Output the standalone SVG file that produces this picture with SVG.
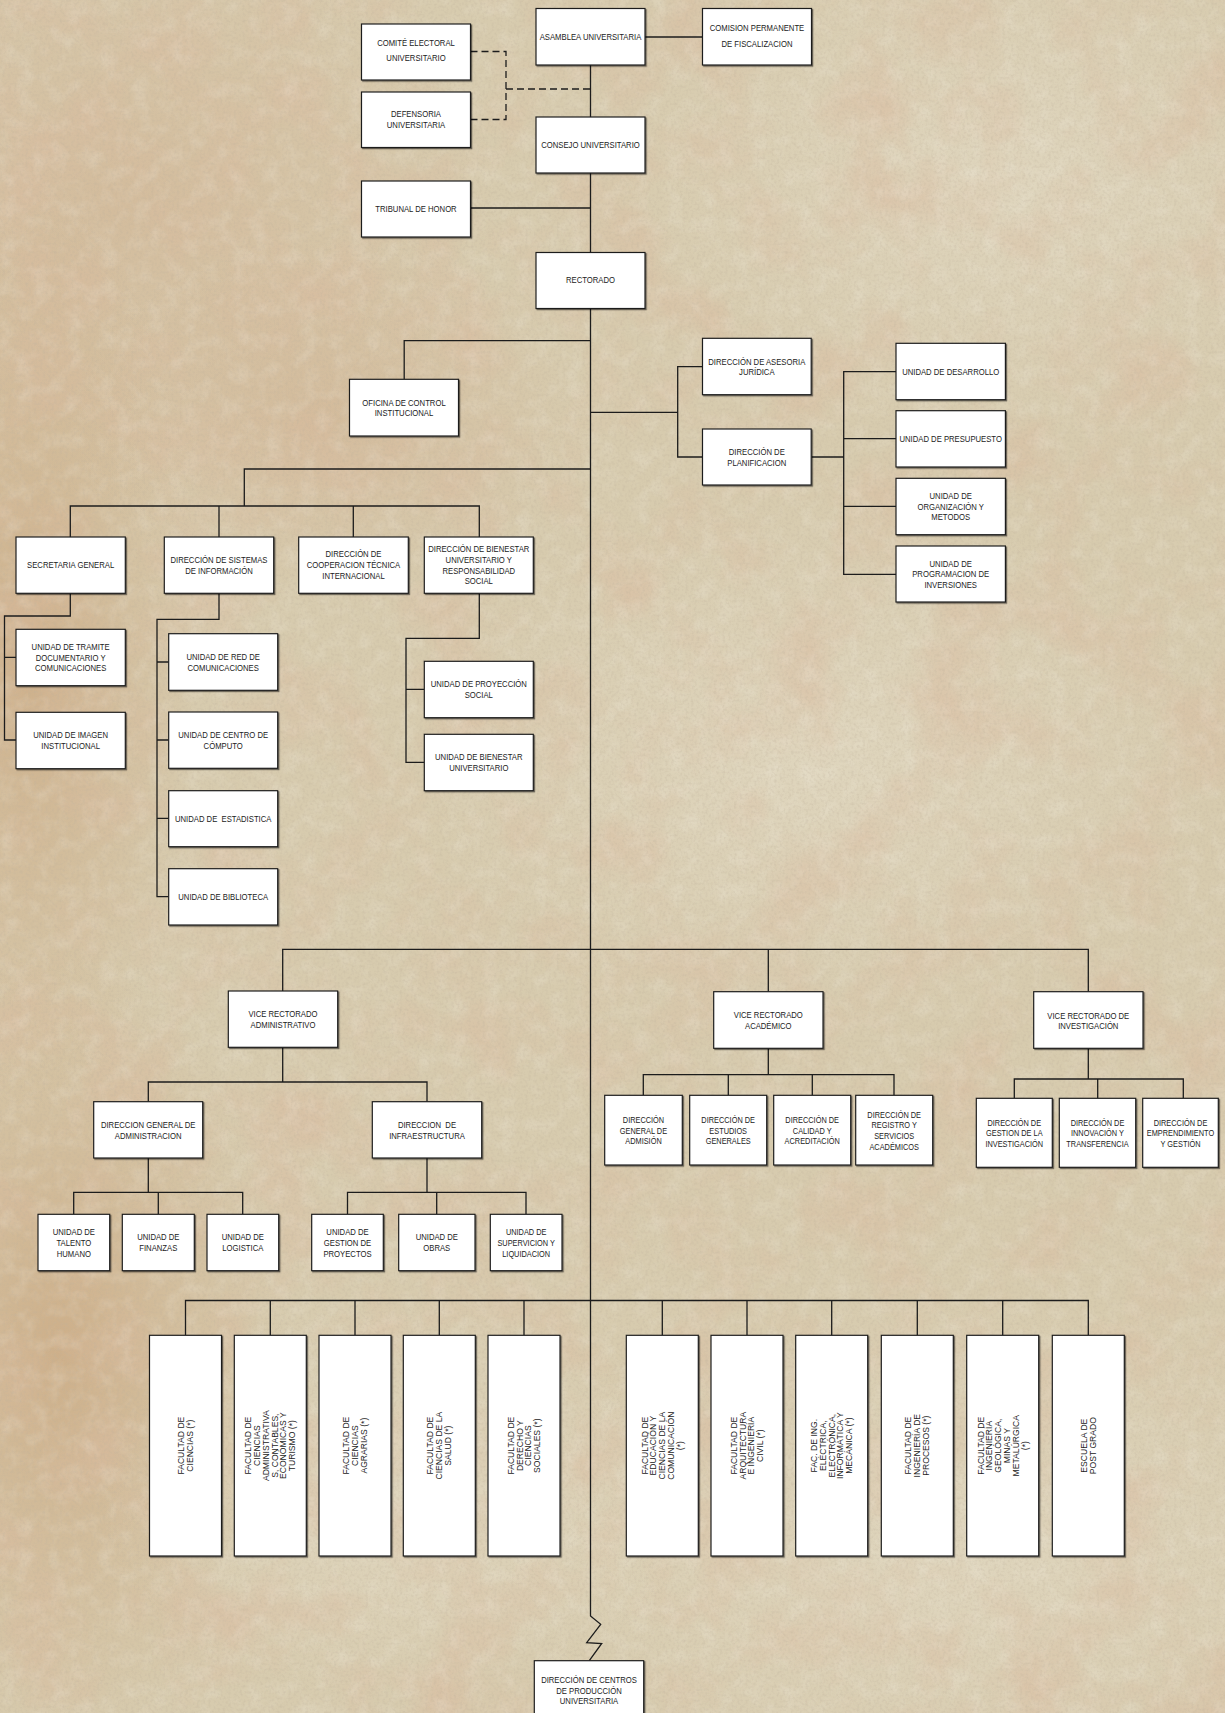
<svg xmlns="http://www.w3.org/2000/svg" width="1225" height="1713" viewBox="0 0 1225 1713">
<style>
.node rect{fill:#fff;stroke:#1e1e1e;stroke-width:1.2;filter:url(#ds)}
.t{font-family:"Liberation Sans",Arial,sans-serif;font-size:9.4px;fill:#222;text-anchor:middle}
.s{font-size:9px}
.f{font-family:"Liberation Sans",Arial,sans-serif;font-size:8.6px;fill:#222;text-anchor:middle}
.c path{fill:none;stroke:#1c1c1c;stroke-width:1.3}
.c path.d{stroke-dasharray:7 4}
</style>
<defs>
<filter id="ds" x="-10%" y="-10%" width="130%" height="130%"><feDropShadow dx="1.2" dy="1.2" stdDeviation="0.5" flood-color="#000" flood-opacity="0.5"/></filter>
<filter id="mottle" x="0" y="0" width="100%" height="100%"><feTurbulence type="fractalNoise" baseFrequency="0.012" numOctaves="5" seed="7"/><feColorMatrix type="matrix" values="0 0 0 0 0.70  0 0 0 0 0.50  0 0 0 0 0.35  2.4 0 0 0 -1.05"/></filter>
<filter id="mid" x="0" y="0" width="100%" height="100%"><feTurbulence type="fractalNoise" baseFrequency="0.06" numOctaves="3" seed="11"/><feColorMatrix type="matrix" values="0 0 0 0 0.93  0 0 0 0 0.90  0 0 0 0 0.82  0 2.2 0 0 -0.95"/></filter>
<filter id="grain" x="0" y="0" width="100%" height="100%"><feTurbulence type="fractalNoise" baseFrequency="0.35" numOctaves="2" seed="3"/><feColorMatrix type="matrix" values="0 0 0 0 0.52  0 0 0 0 0.44  0 0 0 0 0.33  2.4 0 0 0 -1.05"/></filter>
<radialGradient id="g1" cx="0.5" cy="0.5" r="0.5"><stop offset="0" stop-color="#c8a076" stop-opacity="0.65"/><stop offset="1" stop-color="#c8a076" stop-opacity="0"/></radialGradient>
<radialGradient id="g2" cx="0.5" cy="0.5" r="0.5"><stop offset="0" stop-color="#e4dcc7" stop-opacity="0.6"/><stop offset="1" stop-color="#e4dcc7" stop-opacity="0"/></radialGradient>
<radialGradient id="g3" cx="0.5" cy="0.5" r="0.5"><stop offset="0" stop-color="#cfac8a" stop-opacity="0.5"/><stop offset="1" stop-color="#cfac8a" stop-opacity="0"/></radialGradient>
</defs>
<g id="background">
<rect width="1225" height="1713" fill="#d7cbae"/>
<ellipse cx="120" cy="200" rx="380" ry="300" fill="url(#g3)"/>
<ellipse cx="30" cy="650" rx="170" ry="460" fill="url(#g1)"/>
<ellipse cx="60" cy="1350" rx="220" ry="400" fill="url(#g1)"/>
<ellipse cx="330" cy="420" rx="260" ry="180" fill="url(#g3)"/>
<ellipse cx="1000" cy="180" rx="380" ry="260" fill="url(#g2)"/>
<ellipse cx="950" cy="1550" rx="450" ry="250" fill="url(#g2)"/>
<ellipse cx="820" cy="760" rx="400" ry="260" fill="url(#g2)"/>
<ellipse cx="400" cy="1500" rx="300" ry="200" fill="url(#g2)"/>
<rect width="1225" height="1713" filter="url(#mottle)" opacity="0.55"/>
<rect width="1225" height="1713" filter="url(#mid)" opacity="0.2"/>
<rect width="1225" height="1713" filter="url(#grain)" opacity="0.3"/>
</g>
<g id="connectors" class="c">
<path d="M590.5,64.5 V117 M645,37 H702.5 M590.5,173 V252.5 M470.5,208 H590.5"/>
<path class="d" d="M470.5,51.5 H506 V119.5 H470.5 M506,89 H590.5"/>
<path d="M590.5,308.5 V1616 L600.7,1624.3 L586.7,1642.7 L601.7,1643.5 L589.3,1660.7"/>
<path d="M590.5,340.7 H404.2 V379.3"/>
<path d="M590.5,412.3 H677.7 M702.5,366.7 H677.7 V457 H702.5 M811.2,457 H843.7 M896,371.7 H843.7 V574.3 H896 M843.7,438.7 H896 M843.7,506.3 H896"/>
<path d="M590.5,469 H244.3 V506 M70.3,537 V506 H479.3 V537 M219,506 V537 M353.3,506 V537"/>
<path d="M70.3,593.3 V616 H4.5 V740 H16 M4.5,657.3 H16"/>
<path d="M219,593.3 V619.3 H157 V896.7 H168.7 M157,662 H168.7 M157,740 H168.7 M157,818.3 H168.7"/>
<path d="M479.3,593.3 V638.3 H406 V762.3 H424.3 M406,689.3 H424.3"/>
<path d="M282.7,991 V949.3 H1088.3 V991.7 M768.3,949.3 V991.7"/>
<path d="M282.7,1047.3 V1082 M148.3,1101.7 V1082 H427 V1101.7"/>
<path d="M148.3,1158 V1192.3 M73.7,1214.3 V1192.3 H242.7 V1214.3 M158.3,1192.3 V1214.3"/>
<path d="M427,1158 V1192.3 M347.5,1214.3 V1192.3 H526 V1214.3 M436.7,1192.3 V1214.3"/>
<path d="M768.3,1048.3 V1074.7 M643.3,1095.3 V1074.7 H894 V1095.3 M728.3,1074.7 V1095.3 M812.3,1074.7 V1095.3"/>
<path d="M1088.3,1048.3 V1079 M1014.3,1098.3 V1079 H1183.3 V1098.3 M1097.7,1079 V1098.3"/>
<path d="M185.5,1335.3 V1300.5 H1088.3 V1335.3 M270.3,1300.5 V1335.3 M355,1300.5 V1335.3 M439.3,1300.5 V1335.3 M524,1300.5 V1335.3 M662.3,1300.5 V1335.3 M747,1300.5 V1335.3 M831.7,1300.5 V1335.3 M917.3,1300.5 V1335.3 M1002.7,1300.5 V1335.3"/>
</g>
<g id="n-asamblea" class="node"><rect x="536" y="8.5" width="109" height="56.5"/><text class="t" transform="matrix(0.82 0 0 1 106.29 0)" x="590.5" y="40">ASAMBLEA UNIVERSITARIA</text></g>
<g id="n-comision" class="node"><rect x="702.5" y="8.5" width="109" height="56.5"/><text class="t" transform="matrix(0.82 0 0 1 136.26 0)"><tspan x="757" y="31">COMISION PERMANENTE</tspan><tspan x="757" y="47">DE FISCALIZACION</tspan></text></g>
<g id="n-comite" class="node"><rect x="361.5" y="24" width="109" height="56"/><text class="t" transform="matrix(0.82 0 0 1 74.88 0)"><tspan x="416" y="45.6">COMITÉ ELECTORAL</tspan><tspan x="416" y="60.6">UNIVERSITARIO</tspan></text></g>
<g id="n-defensoria" class="node"><rect x="361.5" y="92" width="109" height="55.5"/><text class="t" transform="matrix(0.82 0 0 1 74.88 0)"><tspan x="416" y="116.6">DEFENSORIA</tspan><tspan x="416" y="127.6">UNIVERSITARIA</tspan></text></g>
<g id="n-consejo" class="node"><rect x="536" y="117" width="109" height="56"/><text class="t" transform="matrix(0.82 0 0 1 106.29 0)" x="590.5" y="148.5">CONSEJO UNIVERSITARIO</text></g>
<g id="n-tribunal" class="node"><rect x="361.5" y="181" width="109" height="56"/><text class="t" transform="matrix(0.82 0 0 1 74.88 0)" x="416" y="211.6">TRIBUNAL DE HONOR</text></g>
<g id="n-rectorado" class="node"><rect x="536" y="252.5" width="109" height="56"/><text class="t" transform="matrix(0.82 0 0 1 106.29 0)" x="590.5" y="282.6">RECTORADO</text></g>
<g id="n-oficina" class="node"><rect x="349.5" y="379.3" width="109" height="56.7"/><text class="t" transform="matrix(0.82 0 0 1 72.72 0)"><tspan x="404" y="405.6">OFICINA DE CONTROL</tspan><tspan x="404" y="416">INSTITUCIONAL</tspan></text></g>
<g id="n-asesoria" class="node"><rect x="702.5" y="338.3" width="108.7" height="56.4"/><text class="t" transform="matrix(0.82 0 0 1 136.224 0)"><tspan x="756.8" y="365">DIRECCIÓN DE ASESORIA</tspan><tspan x="756.8" y="375">JURÍDICA</tspan></text></g>
<g id="n-planificacion" class="node"><rect x="702.5" y="429" width="108.7" height="56"/><text class="t" transform="matrix(0.82 0 0 1 136.224 0)"><tspan x="756.8" y="455">DIRECCIÓN DE</tspan><tspan x="756.8" y="466">PLANIFICACION</tspan></text></g>
<g id="n-desarrollo" class="node"><rect x="896" y="343.3" width="109.4" height="56.4"/><text class="t" transform="matrix(0.82 0 0 1 171.126 0)" x="950.7" y="375">UNIDAD DE DESARROLLO</text></g>
<g id="n-presupuesto" class="node"><rect x="896" y="410.7" width="109.4" height="56.3"/><text class="t" transform="matrix(0.82 0 0 1 171.126 0)" x="950.7" y="442">UNIDAD DE PRESUPUESTO</text></g>
<g id="n-organizacion" class="node"><rect x="896" y="478.3" width="109.4" height="56.4"/><text class="t" transform="matrix(0.82 0 0 1 171.126 0)"><tspan x="950.7" y="499">UNIDAD DE</tspan><tspan x="950.7" y="509.6">ORGANIZACIÓN Y</tspan><tspan x="950.7" y="520">METODOS</tspan></text></g>
<g id="n-programacion" class="node"><rect x="896" y="546" width="109.4" height="56"/><text class="t" transform="matrix(0.82 0 0 1 171.126 0)"><tspan x="950.7" y="566.6">UNIDAD DE</tspan><tspan x="950.7" y="577.3">PROGRAMACION DE</tspan><tspan x="950.7" y="587.6">INVERSIONES</tspan></text></g>
<g id="n-secretaria" class="node"><rect x="16" y="537" width="109.3" height="56.3"/><text class="t" transform="matrix(0.82 0 0 1 12.717 0)" x="70.65" y="567.8">SECRETARIA GENERAL</text></g>
<g id="n-sistemas" class="node"><rect x="164.3" y="537" width="109.4" height="56.3"/><text class="t" transform="matrix(0.82 0 0 1 39.42 0)"><tspan x="219" y="563">DIRECCIÓN DE SISTEMAS</tspan><tspan x="219" y="573.6">DE INFORMACIÓN</tspan></text></g>
<g id="n-cooperacion" class="node"><rect x="298.7" y="537" width="109.6" height="56.3"/><text class="t" transform="matrix(0.82 0 0 1 63.63 0)"><tspan x="353.5" y="557.3">DIRECCIÓN DE</tspan><tspan x="353.5" y="568">COOPERACION TÉCNICA</tspan><tspan x="353.5" y="579">INTERNACIONAL</tspan></text></g>
<g id="n-bienestar" class="node"><rect x="424.3" y="537" width="109" height="56.3"/><text class="t" transform="matrix(0.82 0 0 1 86.184 0)"><tspan x="478.8" y="551.6">DIRECCIÓN DE BIENESTAR</tspan><tspan x="478.8" y="562.6">UNIVERSITARIO Y</tspan><tspan x="478.8" y="573.6">RESPONSABILIDAD</tspan><tspan x="478.8" y="584">SOCIAL</tspan></text></g>
<g id="n-tramite" class="node"><rect x="16" y="629.3" width="109.3" height="56.4"/><text class="t" transform="matrix(0.82 0 0 1 12.717 0)"><tspan x="70.65" y="649.6">UNIDAD DE TRAMITE</tspan><tspan x="70.65" y="660.6">DOCUMENTARIO Y</tspan><tspan x="70.65" y="671">COMUNICACIONES</tspan></text></g>
<g id="n-imagen" class="node"><rect x="16" y="712.3" width="109.3" height="56.4"/><text class="t" transform="matrix(0.82 0 0 1 12.717 0)"><tspan x="70.65" y="737.6">UNIDAD DE IMAGEN</tspan><tspan x="70.65" y="749">INSTITUCIONAL</tspan></text></g>
<g id="n-red" class="node"><rect x="168.7" y="633.7" width="109" height="56.6"/><text class="t" transform="matrix(0.82 0 0 1 40.176 0)"><tspan x="223.2" y="660">UNIDAD DE RED DE</tspan><tspan x="223.2" y="670.6">COMUNICACIONES</tspan></text></g>
<g id="n-centro" class="node"><rect x="168.7" y="712" width="109" height="56.3"/><text class="t" transform="matrix(0.82 0 0 1 40.176 0)"><tspan x="223.2" y="738">UNIDAD DE CENTRO DE</tspan><tspan x="223.2" y="749">CÓMPUTO</tspan></text></g>
<g id="n-estadistica" class="node"><rect x="168.7" y="790.7" width="109" height="56"/><text class="t" transform="matrix(0.82 0 0 1 40.176 0)" x="223.2" y="821.6" xml:space="preserve">UNIDAD DE  ESTADISTICA</text></g>
<g id="n-biblioteca" class="node"><rect x="168.7" y="868.7" width="109" height="56.3"/><text class="t" transform="matrix(0.82 0 0 1 40.176 0)" x="223.2" y="899.6">UNIDAD DE BIBLIOTECA</text></g>
<g id="n-proyeccion" class="node"><rect x="424.3" y="661.3" width="109" height="56.4"/><text class="t" transform="matrix(0.82 0 0 1 86.184 0)"><tspan x="478.8" y="686.6">UNIDAD DE PROYECCIÓN</tspan><tspan x="478.8" y="697.6">SOCIAL</tspan></text></g>
<g id="n-bienestar-univ" class="node"><rect x="424.3" y="734.3" width="109" height="56.4"/><text class="t" transform="matrix(0.82 0 0 1 86.184 0)"><tspan x="478.8" y="760">UNIDAD DE BIENESTAR</tspan><tspan x="478.8" y="770.6">UNIVERSITARIO</tspan></text></g>
<g id="n-vr-admin" class="node"><rect x="228.3" y="991" width="109.4" height="56.3"/><text class="t" transform="matrix(0.82 0 0 1 50.94 0)"><tspan x="283" y="1017">VICE RECTORADO</tspan><tspan x="283" y="1028">ADMINISTRATIVO</tspan></text></g>
<g id="n-vr-acad" class="node"><rect x="713.7" y="991.7" width="109.3" height="56.6"/><text class="t" transform="matrix(0.82 0 0 1 138.294 0)"><tspan x="768.3" y="1018">VICE RECTORADO</tspan><tspan x="768.3" y="1029">ACADÉMICO</tspan></text></g>
<g id="n-vr-inv" class="node"><rect x="1033.7" y="991.7" width="109.3" height="56.6"/><text class="t" transform="matrix(0.82 0 0 1 195.894 0)"><tspan x="1088.3" y="1018.6">VICE RECTORADO DE</tspan><tspan x="1088.3" y="1029.3">INVESTIGACIÓN</tspan></text></g>
<g id="n-dga" class="node"><rect x="93.7" y="1101.7" width="109" height="56.3"/><text class="t" transform="matrix(0.82 0 0 1 26.676 0)"><tspan x="148.2" y="1128">DIRECCION GENERAL DE</tspan><tspan x="148.2" y="1139">ADMINISTRACION</tspan></text></g>
<g id="n-infra" class="node"><rect x="372.3" y="1101.7" width="109.4" height="56.3"/><text class="t" transform="matrix(0.82 0 0 1 76.86 0)" xml:space="preserve"><tspan x="427" y="1128">DIRECCION  DE</tspan><tspan x="427" y="1139">INFRAESTRUCTURA</tspan></text></g>
<g id="n-talento" class="node"><rect x="38" y="1214.3" width="71.7" height="56.4"/><text class="t" transform="matrix(0.82 0 0 1 13.293 0)"><tspan x="73.85" y="1235">UNIDAD DE</tspan><tspan x="73.85" y="1246">TALENTO</tspan><tspan x="73.85" y="1256.6">HUMANO</tspan></text></g>
<g id="n-finanzas" class="node"><rect x="122.3" y="1214.3" width="72" height="56.4"/><text class="t" transform="matrix(0.82 0 0 1 28.494 0)"><tspan x="158.3" y="1240.5">UNIDAD DE</tspan><tspan x="158.3" y="1251">FINANZAS</tspan></text></g>
<g id="n-logistica" class="node"><rect x="207" y="1214.3" width="71.7" height="56.4"/><text class="t" transform="matrix(0.82 0 0 1 43.713 0)"><tspan x="242.85" y="1240.5">UNIDAD DE</tspan><tspan x="242.85" y="1251">LOGISTICA</tspan></text></g>
<g id="n-gestion-proy" class="node"><rect x="311.7" y="1214.3" width="71.6" height="56.4"/><text class="t" transform="matrix(0.82 0 0 1 62.55 0)"><tspan x="347.5" y="1235">UNIDAD DE</tspan><tspan x="347.5" y="1246">GESTION DE</tspan><tspan x="347.5" y="1256.6">PROYECTOS</tspan></text></g>
<g id="n-obras" class="node"><rect x="398.7" y="1214.3" width="76.3" height="56.4"/><text class="t" transform="matrix(0.82 0 0 1 78.624 0)"><tspan x="436.8" y="1240.5">UNIDAD DE</tspan><tspan x="436.8" y="1251">OBRAS</tspan></text></g>
<g id="n-supervicion" class="node"><rect x="490.3" y="1214.3" width="71.7" height="56.4"/><text class="t s" transform="matrix(0.82 0 0 1 94.716 0)"><tspan x="526.2" y="1235">UNIDAD DE</tspan><tspan x="526.2" y="1246">SUPERVICION Y</tspan><tspan x="526.2" y="1256.6">LIQUIDACION</tspan></text></g>
<g id="n-admision" class="node"><rect x="604.7" y="1095.3" width="77.6" height="69.7"/><text class="t s" transform="matrix(0.82 0 0 1 115.83 0)"><tspan x="643.5" y="1123">DIRECCIÓN</tspan><tspan x="643.5" y="1133.6">GENERAL DE</tspan><tspan x="643.5" y="1144.3">ADMISIÓN</tspan></text></g>
<g id="n-estudios" class="node"><rect x="689.7" y="1095.3" width="77" height="69.7"/><text class="t s" transform="matrix(0.82 0 0 1 131.076 0)"><tspan x="728.2" y="1123">DIRECCIÓN DE</tspan><tspan x="728.2" y="1133.6">ESTUDIOS</tspan><tspan x="728.2" y="1144.3">GENERALES</tspan></text></g>
<g id="n-calidad" class="node"><rect x="773.7" y="1095.3" width="77" height="69.7"/><text class="t s" transform="matrix(0.82 0 0 1 146.196 0)"><tspan x="812.2" y="1123">DIRECCIÓN DE</tspan><tspan x="812.2" y="1133.6">CALIDAD Y</tspan><tspan x="812.2" y="1144.3">ACREDITACIÓN</tspan></text></g>
<g id="n-registro" class="node"><rect x="855.7" y="1095.3" width="77" height="69.7"/><text class="t s" transform="matrix(0.82 0 0 1 160.956 0)"><tspan x="894.2" y="1117.6">DIRECCIÓN DE</tspan><tspan x="894.2" y="1128.3">REGISTRO Y</tspan><tspan x="894.2" y="1139">SERVICIOS</tspan><tspan x="894.2" y="1149.6">ACADÉMICOS</tspan></text></g>
<g id="n-gestion-inv" class="node"><rect x="976.3" y="1098.3" width="76" height="69"/><text class="t s" transform="matrix(0.82 0 0 1 182.574 0)"><tspan x="1014.3" y="1126">DIRECCIÓN DE</tspan><tspan x="1014.3" y="1136.3">GESTION DE LA</tspan><tspan x="1014.3" y="1146.6">INVESTIGACIÓN</tspan></text></g>
<g id="n-innovacion" class="node"><rect x="1059.3" y="1098.3" width="76.4" height="69"/><text class="t s" transform="matrix(0.82 0 0 1 197.55 0)"><tspan x="1097.5" y="1126">DIRECCIÓN DE</tspan><tspan x="1097.5" y="1136.3">INNOVACIÓN Y</tspan><tspan x="1097.5" y="1146.6">TRANSFERENCIA</tspan></text></g>
<g id="n-emprendimiento" class="node"><rect x="1142.7" y="1098.3" width="75.6" height="69"/><text class="t s" transform="matrix(0.82 0 0 1 212.49 0)"><tspan x="1180.5" y="1126">DIRECCIÓN DE</tspan><tspan x="1180.5" y="1136.3">EMPRENDIMIENTO</tspan><tspan x="1180.5" y="1146.6">Y GESTIÓN</tspan></text></g>
<g id="n-f1" class="node"><rect x="149.5" y="1335.3" width="72" height="220.7"/><text class="f" transform="rotate(-90 185.5 1445.65)"><tspan x="185.5" y="1444.25">FACULTAD DE</tspan><tspan x="185.5" y="1453.05">CIENCIAS (*)</tspan></text></g>
<g id="n-f2" class="node"><rect x="234.3" y="1335.3" width="72" height="220.7"/><text class="f" transform="rotate(-90 270.3 1445.65)"><tspan x="270.3" y="1426.65">FACULTAD DE</tspan><tspan x="270.3" y="1435.45">CIENCIAS</tspan><tspan x="270.3" y="1444.25">ADMINISTRATIVA</tspan><tspan x="270.3" y="1453.05">S, CONTABLES,</tspan><tspan x="270.3" y="1461.85">ECONÓMICAS Y</tspan><tspan x="270.3" y="1470.65">TURISMO (*)</tspan></text></g>
<g id="n-f3" class="node"><rect x="319" y="1335.3" width="72" height="220.7"/><text class="f" transform="rotate(-90 355 1445.65)"><tspan x="355" y="1439.85">FACULTAD DE</tspan><tspan x="355" y="1448.65">CIENCIAS</tspan><tspan x="355" y="1457.45">AGRARIAS (*)</tspan></text></g>
<g id="n-f4" class="node"><rect x="403.3" y="1335.3" width="72" height="220.7"/><text class="f" transform="rotate(-90 439.3 1445.65)"><tspan x="439.3" y="1439.85">FACULTAD DE</tspan><tspan x="439.3" y="1448.65">CIENCIAS DE LA</tspan><tspan x="439.3" y="1457.45">SALUD (*)</tspan></text></g>
<g id="n-f5" class="node"><rect x="488" y="1335.3" width="72" height="220.7"/><text class="f" transform="rotate(-90 524 1445.65)"><tspan x="524" y="1435.45">FACULTAD DE</tspan><tspan x="524" y="1444.25">DERECHO Y</tspan><tspan x="524" y="1453.05">CIENCIAS</tspan><tspan x="524" y="1461.85">SOCIALES (*)</tspan></text></g>
<g id="n-f6" class="node"><rect x="626.3" y="1335.3" width="72" height="220.7"/><text class="f" transform="rotate(-90 662.3 1445.65)"><tspan x="662.3" y="1431.05">FACULTAD DE</tspan><tspan x="662.3" y="1439.85">EDUCACIÓN Y</tspan><tspan x="662.3" y="1448.65">CIENCIAS DE LA</tspan><tspan x="662.3" y="1457.45">COMUNICACIÓN</tspan><tspan x="662.3" y="1466.25">(*)</tspan></text></g>
<g id="n-f7" class="node"><rect x="711" y="1335.3" width="72" height="220.7"/><text class="f" transform="rotate(-90 747 1445.65)"><tspan x="747" y="1435.45">FACULTAD DE</tspan><tspan x="747" y="1444.25">ARQUITECTURA</tspan><tspan x="747" y="1453.05">E INGENIERÍA</tspan><tspan x="747" y="1461.85">CIVIL (*)</tspan></text></g>
<g id="n-f8" class="node"><rect x="795.7" y="1335.3" width="72" height="220.7"/><text class="f" transform="rotate(-90 831.7 1445.65)"><tspan x="831.7" y="1431.05">FAC. DE ING.</tspan><tspan x="831.7" y="1439.85">ELÉCTRICA,</tspan><tspan x="831.7" y="1448.65">ELECTRÓNICA,</tspan><tspan x="831.7" y="1457.45">INFORMÁTICA Y</tspan><tspan x="831.7" y="1466.25">MECÁNICA (*)</tspan></text></g>
<g id="n-f9" class="node"><rect x="881.3" y="1335.3" width="72" height="220.7"/><text class="f" transform="rotate(-90 917.3 1445.65)"><tspan x="917.3" y="1439.85">FACULTAD DE</tspan><tspan x="917.3" y="1448.65">INGENIERÍA DE</tspan><tspan x="917.3" y="1457.45">PROCESOS (*)</tspan></text></g>
<g id="n-f10" class="node"><rect x="966.7" y="1335.3" width="72" height="220.7"/><text class="f" transform="rotate(-90 1002.7 1445.65)"><tspan x="1002.7" y="1426.65">FACULTAD DE</tspan><tspan x="1002.7" y="1435.45">INGENIERÍA</tspan><tspan x="1002.7" y="1444.25">GEOLÓGICA,</tspan><tspan x="1002.7" y="1453.05">MINAS Y</tspan><tspan x="1002.7" y="1461.85">METALÚRGICA</tspan><tspan x="1002.7" y="1470.65">(*)</tspan></text></g>
<g id="n-f11" class="node"><rect x="1052.3" y="1335.3" width="72" height="220.7"/><text class="f" transform="rotate(-90 1088.3 1445.65)"><tspan x="1088.3" y="1444.25">ESCUELA DE</tspan><tspan x="1088.3" y="1453.05">POST GRADO</tspan></text></g>
<g id="n-centros" class="node"><rect x="534.3" y="1660.7" width="109.4" height="62"/><text class="t" transform="matrix(0.82 0 0 1 106.02 0)"><tspan x="589" y="1683.3">DIRECCIÓN DE CENTROS</tspan><tspan x="589" y="1693.6">DE PRODUCCIÓN</tspan><tspan x="589" y="1704">UNIVERSITARIA</tspan></text></g>
</svg>
